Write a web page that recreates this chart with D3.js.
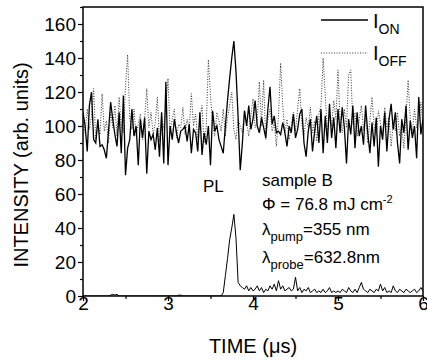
<!DOCTYPE html>
<html>
<head>
<meta charset="utf-8">
<script src="https://cdn.jsdelivr.net/npm/d3@7"></script>
<style>
  body { margin: 0; background: #fff; }
  svg text { font-family: "Liberation Sans", Arial, sans-serif; fill: #000; }
</style>
</head>
<body>
<div class="chart"></div>
<script>
// sampling grid of the traces (µs)
var timeStart = 2;
var timeStep = 0.025;

// probe signal with pump on
var ionValues = [
  108, 100, 85, 112, 120, 92, 90, 104, 88, 89,
  86, 81, 97, 114, 104, 95, 88, 108, 84, 118,
  71, 87, 92, 110, 94, 100, 77, 104, 93, 105,
  72, 97, 92, 95, 86, 99, 82, 108, 78, 126,
  77, 100, 92, 104, 96, 90, 97, 98, 100, 91,
  101, 84, 98, 96, 85, 108, 83, 96, 89, 100,
  77, 109, 97, 100, 92, 88, 84, 100, 115, 128,
  140, 150, 132, 105, 74, 90, 109, 100, 112, 98,
  104, 115, 100, 96, 105, 99, 93, 110, 123, 101,
  106, 96, 97, 95, 102, 96, 88, 100, 96, 107,
  93, 98, 107, 110, 90, 82, 97, 104, 85, 97,
  106, 90, 110, 84, 106, 90, 113, 93, 105, 87,
  110, 96, 111, 99, 78, 104, 95, 112, 87, 108,
  94, 100, 89, 112, 96, 84, 102, 88, 105, 76,
  100, 92, 108, 85, 104, 113, 98, 108, 90, 78,
  104, 96, 112, 86, 103, 93, 100, 81, 117, 95,
  104
];

// probe signal with pump off
var ioffValues = [
  104, 96, 110, 98, 106, 122, 92, 101, 95, 119,
  97, 103, 90, 108, 99, 112, 94, 117, 100, 96,
  123, 142, 104, 98, 110, 94, 101, 107, 92, 104,
  122, 99, 108, 95, 102, 117, 91, 106, 98, 112,
  128, 96, 104, 110, 93, 101, 99, 111, 95, 104,
  98, 119, 100, 107, 92, 103, 112, 90, 99, 139,
  118, 100, 94, 108, 103, 97, 110, 94, 105, 112,
  120, 98, 92, 104, 100, 96, 109, 102, 94, 106,
  116, 99, 103, 126, 100, 127, 92, 104, 110, 97,
  102, 88, 106, 137, 112, 96, 104, 92, 100, 108,
  97, 110, 122, 101, 94, 105, 99, 111, 96, 103,
  91, 107, 112, 140, 118, 97, 106, 100, 115, 104,
  133, 102, 96, 110, 99, 130, 133, 101, 108, 94,
  104, 112, 98, 106, 90, 103, 117, 100, 95, 109,
  102, 96, 111, 99, 105, 88, 102, 97, 108, 94,
  100, 87, 106, 127, 104, 96, 110, 99, 103, 114,
  100
];

// photoluminescence
var plValues = [
  0, 0, 0, 0, 0, 0, 0, 0, 0, 0,
  0, 0, 0, 0.5, 1, 0.5, 1, 0, 0, 0,
  0, 0, 0, 0, 0, 0, 0, 0, 0, 0,
  0, 0, 0, 0, 0, 0, 0, 0, 0, 0,
  0, 0, 0, 0, 0, 0.5, 0.5, 0, 0, 0,
  0, 0, 0, 0, 0, 0, 0, 0, 0, 0,
  0, 0, 0, 0, 0, 0, 2, 12, 22, 33,
  40, 48, 34, 8, 6, 5, 4, 6, 3, 5,
  3, 4, 6, 3, 5, 2, 4, 3, 6, 4,
  7, 3, 9, 4, 6, 3, 4, 5, 3, 4,
  11, 3, 5, 2, 4, 3, 5, 2, 3, 4,
  2, 3, 2, 4, 2, 3, 5, 2, 3, 2,
  3, 2, 4, 3, 2, 5, 3, 2, 4, 2,
  5, 8, 4, 3, 2, 4, 3, 2, 4, 3,
  7, 3, 5, 2, 3, 2, 6, 3, 2, 4,
  3, 2, 4, 3, 2, 3, 4, 2, 3, 5,
  3
];

var xTicks = [2, 3, 4, 5, 6];
var xMinorTicks = [2.5, 3.5, 4.5, 5.5];
var yTicks = [0, 20, 40, 60, 80, 100, 120, 140, 160];
var yMinorTicks = [10, 30, 50, 70, 90, 110, 130, 150, 170];

var width = 427, height = 362;
var margin = {left: 83, right: 4, top: 7, bottom: 66};
var plotW = width - margin.left - margin.right;
var plotH = height - margin.top - margin.bottom;

var svg = d3.select("div.chart").append("svg")
    .attr("width", width)
    .attr("height", height);

var x = d3.scaleLinear().domain([2, 6]).range([0, plotW]);
var y = d3.scaleLinear().domain([0, 170]).range([plotH, 0]);

var g = svg.append("g")
    .attr("transform", "translate(" + margin.left + "," + margin.top + ")");

// minor ticks first, under the labelled ones
g.append("g")
    .attr("transform", "translate(0," + plotH + ")")
    .call(d3.axisBottom(x).tickValues(xMinorTicks).tickSize(3).tickSizeOuter(0).tickFormat(""))
    .call(a => a.select(".domain").remove());
g.append("g")
    .call(d3.axisLeft(y).tickValues(yMinorTicks).tickSize(3).tickSizeOuter(0).tickFormat(""))
    .call(a => a.select(".domain").remove());

var xAxis = g.append("g")
    .attr("transform", "translate(0," + plotH + ")")
    .call(d3.axisBottom(x).tickValues(xTicks).tickSize(5).tickSizeOuter(0).tickFormat(d3.format("d")));
xAxis.selectAll("text")
    .attr("y", 14).attr("dy", 0)
    .style("font-size", "19px");

var yAxis = g.append("g")
    .call(d3.axisLeft(y).tickValues(yTicks).tickSize(5).tickPadding(2).tickSizeOuter(0));
yAxis.selectAll("text")
    .attr("dy", "0.36em")
    .style("font-size", "19px");

svg.selectAll(".domain").remove();
svg.selectAll(".tick line").attr("stroke", "#000").attr("stroke-width", 1.2);

// frame
g.append("rect")
    .attr("width", plotW)
    .attr("height", plotH)
    .attr("fill", "none")
    .attr("stroke", "#000")
    .attr("stroke-width", 1.5);

svg.append("defs").append("clipPath").attr("id", "plotClip")
    .append("rect").attr("width", plotW).attr("height", plotH);

var line = d3.line()
    .x((d, i) => x(timeStart + i * timeStep))
    .y(d => y(d));

var traces = g.append("g").attr("clip-path", "url(#plotClip)");

traces.append("path")
    .attr("d", line(ioffValues))
    .attr("fill", "none")
    .attr("stroke", "#333")
    .attr("stroke-width", 1)
    .attr("stroke-dasharray", "1,1.6");

traces.append("path")
    .attr("d", line(ionValues))
    .attr("fill", "none")
    .attr("stroke", "#000")
    .attr("stroke-width", 1.3);

traces.append("path")
    .attr("d", line(plValues))
    .attr("fill", "none")
    .attr("stroke", "#000")
    .attr("stroke-width", 1);

// axis titles
svg.append("text")
    .attr("x", 253).attr("y", 353)
    .attr("text-anchor", "middle")
    .style("font-size", "20px")
    .text("TIME (\u03bcs)");

svg.append("text")
    .attr("transform", "translate(28,165) rotate(-90)")
    .attr("text-anchor", "middle")
    .style("font-size", "20px")
    .text("INTENSITY (arb. units)");

// legend
var legend = svg.append("g");
legend.append("line")
    .attr("x1", 321).attr("x2", 368).attr("y1", 20).attr("y2", 20)
    .attr("stroke", "#000").attr("stroke-width", 1.3);
legend.append("line")
    .attr("x1", 321).attr("x2", 368).attr("y1", 53).attr("y2", 53)
    .attr("stroke", "#333").attr("stroke-width", 1)
    .attr("stroke-dasharray", "1,1.6");

var lOn = legend.append("text").attr("x", 373).attr("y", 28).style("font-size", "20px");
lOn.append("tspan").text("I");
lOn.append("tspan").attr("dy", 6).style("font-size", "14px").text("ON");

var lOff = legend.append("text").attr("x", 373).attr("y", 60).style("font-size", "20px");
lOff.append("tspan").text("I");
lOff.append("tspan").attr("dy", 6).style("font-size", "14px").text("OFF");

// annotations
svg.append("text").attr("x", 203).attr("y", 192).style("font-size", "17px").text("PL");
svg.append("text").attr("x", 262).attr("y", 186).style("font-size", "17px").text("sample B");

var phi = svg.append("text").attr("x", 262).attr("y", 210).style("font-size", "17px");
phi.append("tspan").text("\u03a6 = 76.8 mJ cm");
phi.append("tspan").attr("dy", -7).style("font-size", "11px").text("-2");

var pump = svg.append("text").attr("x", 262).attr("y", 235).style("font-size", "17px");
pump.append("tspan").text("\u03bb");
pump.append("tspan").attr("dy", 6).style("font-size", "13px").text("pump");
pump.append("tspan").attr("dy", -6).text("=355 nm");

var probe = svg.append("text").attr("x", 262).attr("y", 263).style("font-size", "17px");
probe.append("tspan").text("\u03bb");
probe.append("tspan").attr("dy", 6).style("font-size", "13px").text("probe");
probe.append("tspan").attr("dy", -6).text("=632.8nm");
</script>
</body>
</html>
